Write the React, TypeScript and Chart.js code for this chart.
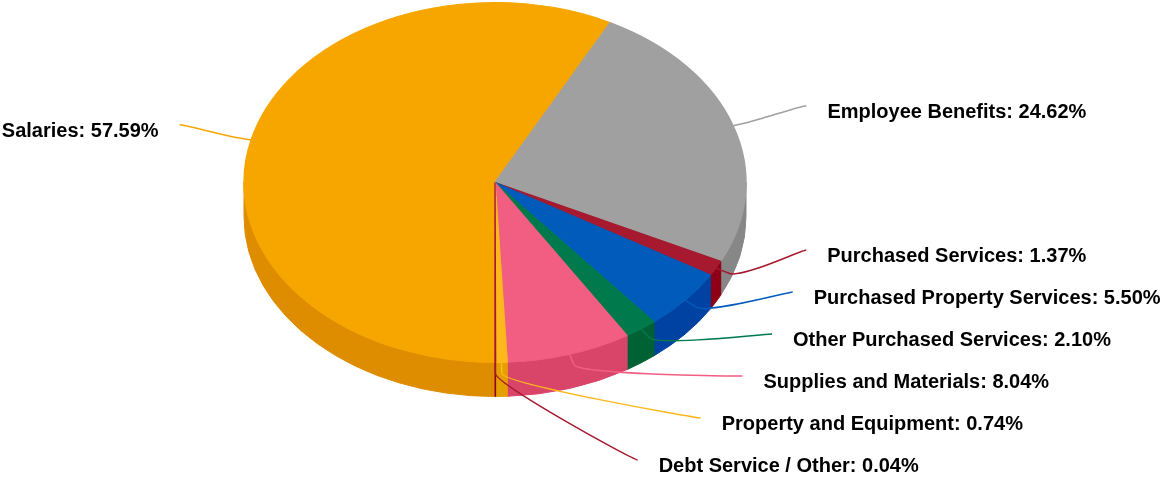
import React, { useEffect, useRef } from 'react';
import { Chart, registerables } from 'chart.js';

Chart.register(...registerables);

// ---- data ----
const categories: string[] = [
  'Salaries',
  'Employee Benefits',
  'Purchased Services',
  'Purchased Property Services',
  'Other Purchased Services',
  'Supplies and Materials',
  'Property and Equipment',
  'Debt Service / Other',
];
const values: number[] = [57.59, 24.62, 1.37, 5.5, 2.1, 8.04, 0.74, 0.04];
const colors: string[] = [
  '#F7A600',
  '#A0A0A0',
  '#A6192E',
  '#005BBB',
  '#007A4D',
  '#F25D82',
  '#FFB81C',
  '#A6192E',
];

// ---- layout / style ----
const W = 1163;
const H = 478;
const TILT_X = 251 / 180; // horizontal stretch of the pie top
const DEPTH = 34; // height of the 3D side
const LABEL_NAT_RY = 244;
const LABEL_AX = 341;
const LABEL_BY = 322;
const LABEL_STEP = 42;
const LABEL_MARGIN = 13;
const CONNECTOR_GAP = 21;
const CONNECTOR_DY = 5;
const BREAK_DIST = 15;
const FONT_SIZE = 20;
const FONT = `700 ${FONT_SIZE}px "Liberation Sans", Arial, Helvetica, sans-serif`;

function darken(hex: string, amt = 25.5): string {
  const n = parseInt(hex.slice(1), 16);
  const r = Math.max(0, ((n >> 16) & 255) - amt);
  const g = Math.max(0, ((n >> 8) & 255) - amt);
  const b = Math.max(0, (n & 255) - amt);
  return `rgb(${Math.round(r)},${Math.round(g)},${Math.round(b)})`;
}
const sideColors = colors.map((c) => darken(c));

function distribute(targets: number[], size: number, minY: number, maxY: number): number[] {
  type G = { ids: number[]; start: number };
  const order = targets.map((t, i) => i).sort((a, b) => targets[a] - targets[b]);
  let groups: G[] = order.map((i) => ({ ids: [i], start: targets[i] }));
  const place = (g: G) => {
    const n = g.ids.length;
    const mean = g.ids.reduce((s, i) => s + targets[i], 0) / n;
    g.start = mean - ((n - 1) * size) / 2;
    if (g.start + (n - 1) * size > maxY) g.start = maxY - (n - 1) * size;
    if (g.start < minY) g.start = minY;
  };
  let changed = true;
  while (changed) {
    changed = false;
    groups.forEach(place);
    for (let k = 0; k < groups.length - 1; k++) {
      const a = groups[k];
      const b = groups[k + 1];
      if (a.start + (a.ids.length - 1) * size + size > b.start + 1e-6) {
        groups = [...groups.slice(0, k), { ids: [...a.ids, ...b.ids], start: 0 }, ...groups.slice(k + 2)];
        changed = true;
        break;
      }
    }
  }
  const out = new Array(targets.length).fill(0);
  groups.forEach((g) => g.ids.forEach((id, j) => (out[id] = g.start + j * size)));
  return out;
}

const pie3d = {
  id: 'pie3d',
  beforeDatasetsDraw(chart: any) {
    const meta = chart.getDatasetMeta(0);
    const arcs = meta.data;
    const ctx: CanvasRenderingContext2D = chart.ctx;
    if (!arcs.length) return;
    const { x: cx, y: cy, outerRadius: r } = arcs[0].getProps(['x', 'y', 'outerRadius'], true);
    const rx = r * TILT_X;
    const ry = r;
    arcs.forEach((arc: any, i: number) => {
      const { startAngle, endAngle } = arc.getProps(['startAngle', 'endAngle'], true);
      for (let k = -1; k <= 2; k++) {
        const lo = Math.max(startAngle, 2 * Math.PI * k);
        const hi = Math.min(endAngle, 2 * Math.PI * k + Math.PI);
        if (hi <= lo) continue;
        ctx.beginPath();
        ctx.ellipse(cx, cy, rx, ry, 0, lo, hi, false);
        ctx.ellipse(cx, cy + DEPTH, rx, ry, 0, hi, lo, true);
        ctx.closePath();
        ctx.fillStyle = sideColors[i];
        ctx.fill();
        ctx.strokeStyle = sideColors[i];
        ctx.lineWidth = 1;
        ctx.stroke();
      }
    });
    ctx.save();
    ctx.translate(cx, 0);
    ctx.scale(TILT_X, 1);
    ctx.translate(-cx, 0);
  },
  afterDatasetsDraw(chart: any) {
    const ctx: CanvasRenderingContext2D = chart.ctx;
    ctx.restore();
    const meta = chart.getDatasetMeta(0);
    const arcs = meta.data;
    if (!arcs.length) return;
    const { x: cx, y: cy, outerRadius: r } = arcs[0].getProps(['x', 'y', 'outerRadius'], true);
    const rx = r * TILT_X;
    const ry = r;
    const items = arcs.map((arc: any, i: number) => {
      const { startAngle, endAngle } = arc.getProps(['startAngle', 'endAngle'], true);
      const mid = (startAngle + endAngle) / 2;
      const c = Math.cos(mid);
      const s = Math.sin(mid);
      const touch = { x: cx + rx * c, y: cy + ry * s };
      const brk = { x: touch.x + BREAK_DIST * c, y: touch.y + BREAK_DIST * s * (ry / rx) };
      return { i, left: c < 0, touch, brk, target: cy + LABEL_NAT_RY * s + CONNECTOR_DY, y: 0 };
    });
    [true, false].forEach((side) => {
      const group = items.filter((it: any) => it.left === side);
      if (!group.length) return;
      const ys = distribute(
        group.map((it: any) => it.target),
        LABEL_STEP,
        LABEL_MARGIN,
        chart.height - LABEL_MARGIN
      );
      group.forEach((it: any, j: number) => (it.y = ys[j]));
    });
    items.forEach((it: any) => {
      const dy = (it.y - cy) / LABEL_BY;
      const dx = LABEL_AX * Math.sqrt(Math.max(0, 1 - dy * dy));
      const textX = it.left ? cx - dx : cx + dx;
      const end = { x: it.left ? textX + CONNECTOR_GAP : textX - CONNECTOR_GAP, y: it.y - CONNECTOR_DY };
      ctx.save();
      ctx.beginPath();
      ctx.moveTo(end.x, end.y);
      ctx.bezierCurveTo(
        end.x + (it.left ? 5 : -5),
        end.y,
        2 * it.brk.x - it.touch.x,
        2 * it.brk.y - it.touch.y,
        it.brk.x,
        it.brk.y
      );
      ctx.lineTo(it.touch.x, it.touch.y);
      ctx.strokeStyle = colors[it.i];
      ctx.lineWidth = 1.5;
      ctx.lineJoin = 'round';
      ctx.stroke();
      ctx.restore();
      it.textX = textX;
    });
    ctx.save();
    ctx.font = FONT;
    ctx.fillStyle = '#000000';
    ctx.textBaseline = 'alphabetic';
    items.forEach((it: any) => {
      const label = `${categories[it.i]}: ${values[it.i].toFixed(2)}%`;
      ctx.textAlign = it.left ? 'right' : 'left';
      ctx.fillText(label, it.textX, it.y + FONT_SIZE * 0.716 / 2);
    });
    ctx.restore();
  },
};

export default function App() {
  const ref = useRef<HTMLCanvasElement>(null);
  useEffect(() => {
    if (!ref.current) return;
    const chart = new Chart(ref.current, {
      type: 'pie',
      data: {
        labels: categories,
        datasets: [
          {
            data: values,
            backgroundColor: colors,
            borderColor: colors,
            borderWidth: 1,
            hoverOffset: 0,
            clip: false as any,
          } as any,
        ],
      },
      options: {
        responsive: false,
        maintainAspectRatio: false,
        animation: false,
        devicePixelRatio: 1,
        rotation: 180,
        events: [],
        layout: { padding: { left: 244, right: 417, top: 2, bottom: 115 } },
        plugins: {
          legend: { display: false },
          tooltip: { enabled: false },
        },
      },
      plugins: [pie3d as any],
    });
    return () => chart.destroy();
  }, []);
  return (
    <div style={{ position: 'absolute', left: 0, top: 0, width: W, height: H, background: '#ffffff' }}>
      <canvas ref={ref} width={W} height={H} style={{ display: 'block', width: W, height: H }} />
    </div>
  );
}
